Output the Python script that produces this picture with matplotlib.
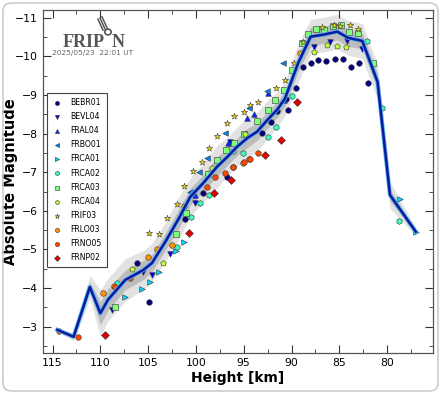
import numpy as np
import matplotlib
matplotlib.use("Agg")
import matplotlib.pyplot as plt
from matplotlib.patches import FancyBboxPatch, Circle
from matplotlib.lines import Line2D

# ---------------- data ----------------
stations = ["BEBR01", "BEVL04", "FRAL04", "FRBO01", "FRCA01", "FRCA02",
            "FRCA03", "FRCA04", "FRIF03", "FRLO03", "FRNO05", "FRNP02"]
markers = ["o", "v", "^", "<", ">", "h", "s", "p", "*", "o", "o", "D"]

h_BEBR01 = [106.2, 104.9, 101.1, 99.3, 96.7, 96.1, 93.1, 92.2, 91.5, 90.6, 90.4, 89.5,
            88.8, 88.0, 87.2, 86.4, 85.5, 84.6, 83.8, 82.9, 82.0]
m_BEBR01 = [-4.65, -3.64, -5.8, -6.47, -6.88, -7.14, -8.02, -8.31, -8.59, -8.9, -8.6, -9.19,
            -9.73, -9.83, -9.91, -9.89, -9.94, -9.94, -9.73, -9.83, -9.32]
h_BEVL04 = [108.8, 105.5, 104.6, 102.7, 100.1, 96.4, 87.7, 86.0, 84.2, 82.6]
m_BEVL04 = [-3.44, -4.42, -4.34, -4.89, -6.21, -7.79, -10.25, -10.38, -10.4, -10.2]
h_FRAL04 = [100.1, 96.6, 94.7, 93.9, 92.5, 90.8]
m_FRAL04 = [-6.41, -7.76, -8.4, -8.51, -9.05, -8.88]
h_FRBO01 = [100.6, 99.7, 98.8, 97.0, 94.5, 92.6, 90.9]
m_FRBO01 = [-6.49, -7.01, -7.36, -8.02, -8.67, -9.11, -9.83]
h_FRCA01 = [107.4, 105.6, 104.8, 103.9, 102.1, 101.2, 78.7, 77.0]
m_FRCA01 = [-3.77, -3.98, -4.16, -4.42, -4.96, -5.2, -6.31, -5.46]
h_FRCA02 = [108.3, 102.0, 100.5, 99.6, 98.6, 96.1, 95.1, 92.5, 91.6, 90.0, 82.1, 80.5, 78.8]
m_FRCA02 = [-4.13, -5.07, -5.84, -6.2, -6.41, -7.55, -7.5, -7.92, -8.18, -8.98, -10.4, -8.67, -5.74]
h_FRCA03 = [108.5, 102.1, 101.0, 98.7, 97.8, 96.9, 96.0, 95.0, 93.6, 92.5, 91.7, 90.8, 89.9,
            88.9, 88.3, 87.4, 86.6, 85.7, 84.8, 84.0, 83.0, 81.5]
m_FRCA03 = [-3.51, -5.4, -5.95, -6.96, -7.32, -7.58, -7.76, -8.0, -8.33, -8.62, -8.88, -9.13, -9.65,
            -10.35, -10.59, -10.72, -10.69, -10.79, -10.82, -10.64, -10.61, -9.83]
h_FRCA04 = [106.7, 103.4, 98.3, 94.9, 87.7, 86.3, 85.2, 84.3]
m_FRCA04 = [-4.5, -4.65, -7.11, -7.98, -10.12, -10.3, -10.27, -10.25]
h_FRIF03 = [104.9, 103.9, 103.0, 102.0, 101.3, 100.3, 99.4, 98.6, 97.8, 96.8, 96.0, 95.0, 94.3,
            93.5, 91.6, 90.7, 89.7, 88.8, 86.8, 85.6, 84.9, 83.9, 83.0]
m_FRIF03 = [-5.43, -5.4, -5.82, -6.18, -6.65, -7.04, -7.27, -7.63, -7.94, -8.28, -8.46, -8.56, -8.75,
            -8.82, -9.19, -9.39, -9.83, -10.38, -10.77, -10.82, -10.79, -10.82, -10.72]
h_FRLO03 = [109.7, 108.6, 105.0, 104.1, 102.5, 101.3, 95.1, 94.4, 89.1]
m_FRLO03 = [-3.87, -4.06, -4.8, -5.02, -5.12, -6.13, -7.24, -7.35, -10.09]
h_FRNO05 = [114.3, 112.3, 108.5, 106.9, 98.8, 98.0, 97.0, 96.1, 95.0, 94.3, 93.5]
m_FRNO05 = [-2.9, -2.74, -4.03, -4.26, -6.62, -6.88, -6.98, -7.14, -7.27, -7.35, -7.5]
h_FRNP02 = [109.5, 100.7, 98.1, 96.3, 92.8, 91.1, 89.4]
m_FRNP02 = [-2.79, -5.43, -6.47, -6.8, -7.45, -7.84, -8.82]

station_h = [h_BEBR01, h_BEVL04, h_FRAL04, h_FRBO01, h_FRCA01, h_FRCA02,
             h_FRCA03, h_FRCA04, h_FRIF03, h_FRLO03, h_FRNO05, h_FRNP02]
station_m = [m_BEBR01, m_BEVL04, m_FRAL04, m_FRBO01, m_FRCA01, m_FRCA02,
             m_FRCA03, m_FRCA04, m_FRIF03, m_FRLO03, m_FRNO05, m_FRNP02]

# median light curve
med_h = [114.5, 112.8, 111.1, 110.0, 109.2, 107.4, 105.5, 104.6, 103.2, 101.8, 100.6, 99.2,
         97.8, 96.7, 95.7, 94.6, 93.6, 92.5, 91.5, 90.7, 89.3, 88.0, 86.7, 85.2, 84.1, 82.6,
         81.0, 79.7, 77.0]
med_m = [-2.92, -2.74, -4.03, -3.35, -3.7, -4.21, -4.47, -4.65, -5.2, -5.8, -6.36, -6.73,
         -7.14, -7.4, -7.66, -7.89, -8.05, -8.36, -8.62, -8.9, -9.83, -10.51, -10.56, -10.64,
         -10.48, -10.40, -9.34, -6.41, -5.46]
outer_hw = [0.05, 0.1, 0.3, 0.6, 0.55, 0.55, 0.5, 0.5, 0.5, 0.55, 0.5, 0.5, 0.55, 0.5,
            0.5, 0.55, 0.5, 0.5, 0.45, 0.45, 0.5, 0.45, 0.45, 0.45, 0.45, 0.45, 0.45, 0.35, 0.1]
inner_hw = [0.02, 0.04, 0.12, 0.3, 0.28, 0.25, 0.25, 0.22, 0.22, 0.25, 0.22, 0.22, 0.25, 0.22,
            0.22, 0.25, 0.22, 0.22, 0.2, 0.2, 0.22, 0.25, 0.22, 0.22, 0.22, 0.2, 0.2, 0.15, 0.05]

# ---------------- figure ----------------
W, H = 441, 394
fig = plt.figure(figsize=(W / 100, H / 100), dpi=100)
fig.patch.set_facecolor("white")
border = FancyBboxPatch((3 / W, 3 / H), 1 - 6 / W, 1 - 6 / H,
                        boxstyle="round,pad=0,rounding_size=0.02",
                        transform=fig.transFigure, facecolor="none",
                        edgecolor="#cccccc", linewidth=1.2)
fig.patches.append(border)

ax = fig.add_axes([43 / W, 1 - 353 / H, 390 / W, 343 / H])

mh = np.array(med_h)
mm = np.array(med_m)
ow = np.array(outer_hw)
iw = np.array(inner_hw)
ax.fill_between(mh, mm - ow, mm + ow, color="#e2e2e2", lw=0, zorder=1)
ax.fill_between(mh, mm - iw, mm + iw, color="#bcbcbc", lw=0, zorder=1.5)

cmap = plt.get_cmap("jet")
colors = [cmap(i / 12) for i in range(12)]
sizes = {"*": 22, "h": 18, "p": 18, "D": 16, "s": 15}
for name, mk, c, hh, mmv in zip(stations, markers, colors, station_h, station_m):
    ax.scatter(hh, mmv, marker=mk, s=sizes.get(mk, 16), color=c, edgecolors="#333333",
               linewidths=0.4, zorder=3, label=name)

ax.plot(mh, mm, color="#5ab4f0", lw=3.0, zorder=4, solid_joinstyle="round")
ax.plot(mh, mm, color="#0a1a9e", lw=1.8, zorder=5, solid_joinstyle="round")

ax.set_xlim(116, 75.2)
ax.set_ylim(-2.32, -11.2)
ax.set_xticks([115, 110, 105, 100, 95, 90, 85, 80])
ax.set_xticks(np.arange(77.5, 116, 2.5), minor=True)
ax.set_yticks([-3, -4, -5, -6, -7, -8, -9, -10, -11])
ax.set_yticks(np.arange(-11, -2.4, 0.5), minor=True)
ax.tick_params(which="both", direction="in", top=True, right=True, labelsize=7.8,
               color="#333333")
ax.tick_params(which="major", length=6, width=0.8)
ax.tick_params(which="minor", length=3, width=0.6)
for s in ax.spines.values():
    s.set_color("#555555")
    s.set_linewidth(0.9)

ax.set_xlabel("Height [km]", fontsize=10, fontweight="bold")
ax.xaxis.set_label_coords(0.5, -0.053)
ax.set_ylabel("Absolute Magnitude", fontsize=10.5, fontweight="bold")
ax.yaxis.set_label_coords(-0.064, 0.5)

leg = ax.legend(loc="upper left", bbox_to_anchor=(0.0, 0.77), fontsize=5.6,
                frameon=True, fancybox=False, edgecolor="#444444", framealpha=1,
                handletextpad=1.0, labelspacing=0.65, borderpad=0.7,
                markerscale=0.75, handlelength=1.3)
leg.get_frame().set_linewidth(0.8)

# FRIPON logo
fig.text(63 / W, 1 - 47 / H, "FRIP", fontsize=13, fontweight="bold",
         family="Liberation Serif", color="#555555", ha="left", va="baseline")
fig.text(112 / W, 1 - 47 / H, "N", fontsize=13, fontweight="bold",
         family="Liberation Serif", color="#555555", ha="left", va="baseline")
fig.patches.append(Circle((108 / W, 1 - 32 / H), 3.2 / W, transform=fig.transFigure,
                          facecolor="white", edgecolor="#555555", lw=1.2))
for dx in (-2, 0, 2):
    fig.lines.append(Line2D([(105 + dx) / W, (100 + dx) / W],
                            [1 - (29 - dx * 0.6) / H, 1 - (18 - dx * 0.6) / H],
                            transform=fig.transFigure, color="#555555", lw=1.1))
fig.text(52 / W, 1 - 55 / H, "2025/05/23  22:01 UT", fontsize=5.4,
         color="#666666", ha="left", va="baseline")

fig.savefig("out.png", dpi=100)
